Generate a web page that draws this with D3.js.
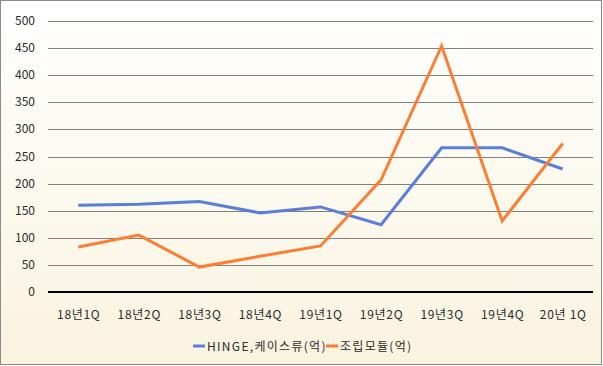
<!DOCTYPE html>
<html><head><meta charset="utf-8">
<script src="https://cdn.jsdelivr.net/npm/d3@7"></script>
<style>body{margin:0;padding:0;background:#fff}svg{display:block}</style>
</head><body>
<svg id="c" width="603" height="366"></svg>
<script>
const categories = ["18년1Q","18년2Q","18년3Q","18년4Q","19년1Q","19년2Q","19년3Q","19년4Q","20년 1Q"];
const hingeValues = [160,162,167,146,157,124,266,266,227];
const moduleValues = [83,105,46,66,85,207,454,131,274];
const yTicks = [0,50,100,150,200,250,300,350,400,450,500];
const seriesNames = ["HINGE,케이스류(억)","조립모듈(억)"];
const seriesColors = ["#5b7fd8","#fb7f33"];

(function(){
const svg = d3.select("#c");
const defs = svg.append("defs");
const g = defs.append("linearGradient").attr("id","bg").attr("x1",0).attr("y1",0).attr("x2",0).attr("y2",1);
g.append("stop").attr("offset","0%").attr("stop-color","#ffffff");
g.append("stop").attr("offset","100%").attr("stop-color","#f9f3df");
svg.append("rect").attr("x",0.5).attr("y",0.5).attr("width",601).attr("height",364)
  .attr("fill","url(#bg)").attr("stroke","#8a8a8a").attr("stroke-width",1);

const pLeft=48,pRight=593,pTop=21,pBottom=292;
const x = d3.scaleBand().domain(categories).range([pLeft,pRight]);
const y = d3.scaleLinear().domain([0,500]).range([pBottom,pTop]);
const font = "'Noto Sans CJK KR', 'DejaVu Sans', sans-serif";

svg.append("g").selectAll("line").data(yTicks.filter(d=>d>0)).join("line")
  .attr("x1",pLeft).attr("x2",pRight)
  .attr("y1",d=>Math.round(y(d))+0.5).attr("y2",d=>Math.round(y(d))+0.5)
  .attr("stroke","#808080").attr("stroke-width",1);
svg.append("line").attr("x1",pLeft).attr("x2",pRight).attr("y1",y(0)).attr("y2",y(0))
  .attr("stroke","#000").attr("stroke-width",2);

svg.append("g").selectAll("text").data(yTicks).join("text")
  .attr("x",35).attr("y",d=>y(d)+4).attr("text-anchor","end")
  .attr("font-family",font).attr("font-size",12).attr("fill","#2a2a2a")
  .text(d=>d);

svg.append("g").selectAll("text").data(categories).join("text")
  .attr("x",d=>x(d)+x.bandwidth()/2+0.5).attr("y",319).attr("text-anchor","middle")
  .attr("font-family",font).attr("font-size",12).attr("letter-spacing","0.7px").attr("fill","#2a2a2a")
  .text(d=>d);

const line = d3.line().x((d,i)=>x(categories[i])+x.bandwidth()/2).y(d=>y(d));
[hingeValues,moduleValues].forEach((vals,k)=>{
  svg.append("path").datum(vals).attr("d",line).attr("fill","none")
    .attr("stroke",seriesColors[k]).attr("stroke-width",3).attr("stroke-linejoin","miter");
});

const leg = svg.append("g");
const lx=[193,326];
seriesNames.forEach((n,k)=>{
  leg.append("line").attr("x1",lx[k]).attr("x2",lx[k]+12).attr("y1",346).attr("y2",346)
    .attr("stroke",seriesColors[k]).attr("stroke-width",3);
  leg.append("text").attr("x",lx[k]+14).attr("y",350.5)
    .attr("font-family",font).attr("font-size",12).attr("letter-spacing","1.3px").attr("fill","#2a2a2a").text(n);
});
})();
</script>
</body></html>
